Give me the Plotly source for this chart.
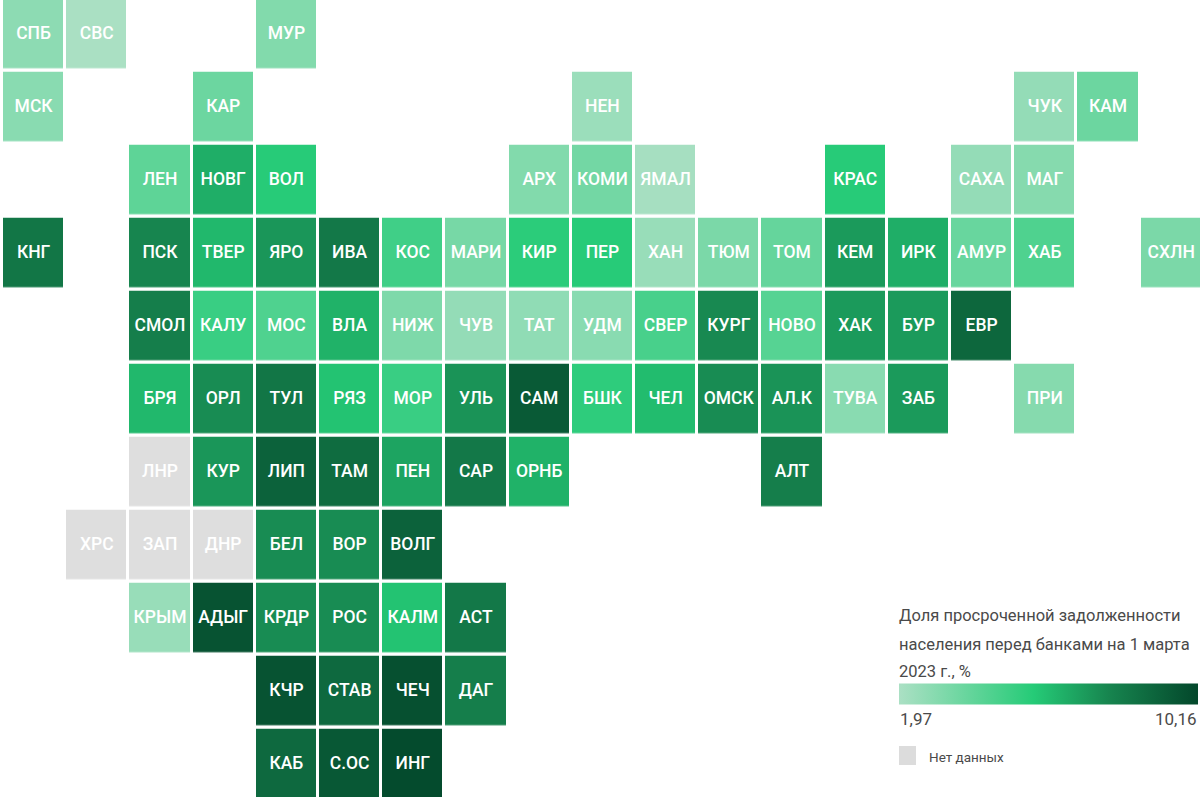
import plotly.graph_objects as go

W, H = 1200, 797
NROWS, NCOLS = 11, 19

labels = ["СПБ","СВС","МУР",
          "МСК","КАР","НЕН","ЧУК","КАМ",
          "ЛЕН","НОВГ","ВОЛ","АРХ","КОМИ","ЯМАЛ","КРАС","САХА","МАГ",
          "КНГ","ПСК","ТВЕР","ЯРО","ИВА","КОС","МАРИ","КИР","ПЕР","ХАН","ТЮМ","ТОМ","КЕМ","ИРК","АМУР","ХАБ","СХЛН",
          "СМОЛ","КАЛУ","МОС","ВЛА","НИЖ","ЧУВ","ТАТ","УДМ","СВЕР","КУРГ","НОВО","ХАК","БУР","ЕВР",
          "БРЯ","ОРЛ","ТУЛ","РЯЗ","МОР","УЛЬ","САМ","БШК","ЧЕЛ","ОМСК","АЛ.К","ТУВА","ЗАБ","ПРИ",
          "КУР","ЛИП","ТАМ","ПЕН","САР","ОРНБ","АЛТ",
          "БЕЛ","ВОР","ВОЛГ",
          "КРЫМ","АДЫГ","КРДР","РОС","КАЛМ","АСТ",
          "КЧР","СТАВ","ЧЕЧ","ДАГ",
          "КАБ","С.ОС","ИНГ"]
cols = [0,1,4,
        0,3,9,16,17,
        2,3,4,8,9,10,13,15,16,
        0,2,3,4,5,6,7,8,9,10,11,12,13,14,15,16,18,
        2,3,4,5,6,7,8,9,10,11,12,13,14,15,
        2,3,4,5,6,7,8,9,10,11,12,13,14,16,
        3,4,5,6,7,8,12,
        4,5,6,
        2,3,4,5,6,7,
        4,5,6,7,
        4,5,6]
rows = [0]*3 + [1]*5 + [2]*9 + [3]*17 + [4]*14 + [5]*14 + [6]*7 + [7]*3 + [8]*6 + [9]*4 + [10]*3
values = [2.8,2.0,3.1,
          2.9,3.7,2.4,2.6,3.7,
          4.1,6.5,5.6,3.1,3.5,2.1,5.6,2.6,3.0,
          8.3,7.7,6.2,7.2,8.2,4.9,3.4,5.5,5.6,2.5,3.3,3.9,7.1,6.5,3.8,4.5,3.3,
          8.0,5.1,4.5,6.4,3.2,2.6,2.7,2.9,4.7,7.6,4.3,7.1,7.1,8.9,
          6.2,7.5,8.3,5.9,5.1,7.3,9.4,5.4,6.1,7.5,7.3,2.9,7.1,3.0,
          7.2,9.1,8.7,6.8,8.2,6.4,8.0,
          7.5,7.5,9.1,
          2.5,9.7,7.5,7.5,5.9,8.2,
          9.7,8.8,9.8,8.0,
          8.8,9.5,10.0]

nodata_labels = ["ЛНР","ХРС","ЗАП","ДНР"]
nodata_cols = [2,1,2,3]
nodata_rows = [6,7,7,7]

VMIN, VMAX = 1.97, 10.16
scale_colors = [[0, "#abe0c4"], [0.45, "#25cb77"], [0.7, "#17854f"], [1, "#03472b"]]
legend_lines = ["Доля просроченной задолженности",
                "населения перед банками на 1 марта",
                "2023 г., %"]
legend_low, legend_high = "1,97", "10,16"
nodata_text = "Нет данных"


def grid(cs, rs, vs):
    m = [[None]*NCOLS for _ in range(NROWS)]
    for c, r, v in zip(cs, rs, vs):
        m[r][c] = v
    return m


fig = go.Figure()
fig.add_trace(go.Heatmap(
    z=grid(cols, rows, values), x=list(range(NCOLS)), y=list(range(NROWS)),
    zmin=VMIN, zmax=VMAX, colorscale=scale_colors, xgap=3, ygap=3.5,
    hoverongaps=False,
    colorbar=dict(orientation="h", x=899/W, xanchor="left", xref="paper",
                  y=1-693.5/H, yanchor="middle", yref="paper",
                  len=299/W, lenmode="fraction", thickness=21, thicknessmode="pixels",
                  xpad=0, ypad=0, outlinewidth=0, ticks="", showticklabels=False),
))
fig.add_trace(go.Heatmap(
    z=grid(nodata_cols, nodata_rows, [1]*4), x=list(range(NCOLS)), y=list(range(NROWS)),
    zmin=0, zmax=1, colorscale=[[0, "#dedede"], [1, "#dedede"]], showscale=False,
    xgap=3, ygap=3.5, hoverongaps=False,
))
fig.add_trace(go.Scatter(
    x=cols + nodata_cols, y=rows + nodata_rows, text=labels + nodata_labels,
    mode="text", textposition="middle center", hoverinfo="skip", showlegend=False,
    textfont=dict(family="Roboto", size=17.5, color="#ffffff", weight=500),
))


def note(text, px, py, size=16.5, color="#4a4a4a", anchor="left"):
    fig.add_annotation(text=text, xref="paper", yref="paper", x=px/W, y=1-py/H,
                       xanchor=anchor, yanchor="middle", showarrow=False,
                       font=dict(family="Roboto", size=size, color=color))


for line, py in zip(legend_lines, [615, 644, 671]):
    note(line, 897, py)
note(legend_low, 898, 719, size=17)
note(legend_high, 1199, 719, size=17, anchor="right")
note(nodata_text, 927, 757, size=13.5)
fig.add_shape(type="rect", xref="paper", yref="paper", x0=899/W, x1=916/W,
              y0=1-765/H, y1=1-746/H, fillcolor="#dcdcdc", line_width=0)

fig.update_layout(
    width=W, height=H, margin=dict(l=0, r=0, t=0, b=0),
    paper_bgcolor="#ffffff", plot_bgcolor="#ffffff",
    xaxis=dict(range=[-33.6/63.2, (W-33.6)/63.2], visible=False, showgrid=False),
    yaxis=dict(range=[(H-34.2)/73, -34.2/73], visible=False, showgrid=False),
)
fig.write_html("out.html", config={"displayModeBar": False},
               post_script="document.body.style.margin='0';document.body.style.overflow='hidden';")
